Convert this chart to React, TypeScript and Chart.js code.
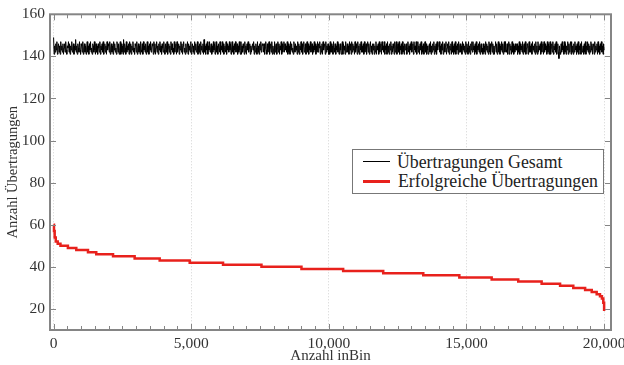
import React, { useEffect, useRef } from 'react';
import { Chart, registerables } from 'chart.js';

Chart.register(...registerables);

// ---- data ----
const xTicks = [0, 5000, 10000, 15000, 20000];
const yTicks = [20, 40, 60, 80, 100, 120, 140, 160];
const xMinorTicks = Array.from({ length: 41 }, (_, i) => i * 500);

// Erfolgreiche Übertragungen (sorted, stepwise)
const redX = [0, 15, 40, 80, 150, 250, 520, 825, 1250, 1550, 2160, 2945, 3855, 4945, 6156, 7552, 9005, 10520, 11975, 13430, 14740, 15915, 16880, 17730, 18400, 18880, 19310, 19550, 19730, 19850, 19920, 19970, 20000];
const redY = [60, 57, 54, 52, 51, 50, 49, 48, 47, 46, 45, 44, 43, 42, 41, 40, 39, 38, 37, 36, 35, 34, 33, 32, 31, 30, 29, 28, 27, 26, 25, 23, 19];

// Übertragungen Gesamt (noisy band around 144)
const totalY = [
  149,141,145,142,146,143,147,141,144,146,142,145,141,147,143,145,142,146,141,144,
  146,142,147,143,141,145,144,147,142,146,141,145,143,147,142,144,146,141,145,143,
  148,142,145,141,146,144,142,147,143,141,146,145,142,147,141,144,146,142,145,141,
  144,147,142,145,141,146,143,147,142,144,141,146,145,142,147,143,141,146,142,145,
  141,146,144,142,147,141,145,143,146,142,147,141,144,146,142,145,141,147,143,146,
  145,142,147,141,144,146,142,145,141,147,143,146,142,144,141,147,145,142,146,141,
  143,147,141,146,142,145,141,148,142,146,144,141,147,142,145,143,146,141,147,142,
  146,141,145,143,147,142,144,141,146,145,142,147,141,144,146,142,145,141,147,143,
  142,146,141,147,143,145,142,146,141,144,147,142,145,141,146,143,147,142,144,146,
  145,141,147,142,146,141,144,147,142,145,141,146,143,147,142,145,141,146,144,142,
  147,143,141,146,142,145,147,141,144,146,142,145,141,147,143,146,142,144,141,147,
  142,145,146,141,147,142,144,146,141,145,143,147,142,146,141,145,147,142,144,141,
  146,142,144,147,141,146,143,145,142,147,141,144,146,142,145,141,147,143,146,142,
  144,147,141,145,142,146,141,147,143,145,142,146,141,148,142,145,141,146,143,147,
  141,145,143,147,142,144,146,141,145,142,147,143,146,141,144,147,142,145,141,146,
  146,142,147,141,145,143,147,142,146,141,144,145,142,147,141,146,143,145,142,147,
  143,146,141,144,147,142,145,141,146,143,147,142,144,146,141,145,142,147,143,141,
  147,141,145,142,146,144,141,147,142,145,141,146,143,147,142,144,146,141,145,142,
  142,146,143,147,141,145,142,146,144,141,147,142,145,141,146,143,147,142,145,146,
  145,142,146,141,144,147,143,141,146,142,145,147,141,144,146,142,147,141,145,143,
  141,147,142,145,146,141,144,147,142,146,141,145,143,147,141,146,142,145,147,142,
  146,143,145,142,147,141,146,142,145,141,147,143,146,142,144,141,147,145,142,146,
  143,145,141,147,142,146,141,145,143,147,142,146,141,145,147,142,144,146,141,145,
  147,142,146,141,145,143,147,142,144,146,141,145,142,147,143,146,141,145,142,147,
  142,146,144,147,141,145,142,146,141,147,143,145,146,141,147,142,145,143,146,141,
  145,141,147,142,146,142,145,141,147,144,142,146,141,145,143,147,142,146,141,144,
  146,143,141,145,147,141,146,143,145,141,147,142,144,146,142,145,141,147,143,146,
  141,147,142,146,143,145,141,147,142,146,144,141,147,142,145,141,146,143,147,142,
  145,142,146,141,147,142,144,146,141,145,147,142,146,141,144,147,142,145,141,146,
  143,146,141,145,142,147,141,145,143,146,141,147,142,145,146,141,147,143,145,142,
  147,141,145,143,146,141,147,142,145,141,146,143,147,141,145,142,146,144,141,147,
  142,145,147,141,144,146,142,147,141,145,143,146,141,147,142,145,141,146,143,145,
  146,141,144,147,142,145,141,146,143,147,142,144,146,141,147,143,145,142,147,141,
  144,147,142,145,141,146,143,147,141,145,142,146,141,144,147,142,146,141,145,143,
  141,145,146,142,147,141,145,142,146,143,147,141,145,142,146,141,147,143,145,146,
  147,142,145,141,146,143,147,141,144,146,142,145,147,141,144,146,142,147,141,145,
  143,146,141,147,142,145,141,146,142,147,141,145,143,146,141,147,142,145,146,142,
  145,141,147,143,146,142,145,141,147,142,146,144,141,147,142,145,141,146,143,147,
  142,147,143,145,141,146,142,147,141,145,143,146,142,147,141,145,146,142,144,141,
  146,142,145,141,147,143,146,142,145,141,147,142,146,141,145,147,142,146,141,145,
  141,145,147,142,146,141,144,147,142,146,141,145,143,147,142,146,141,145,147,142,
  147,143,142,146,141,145,147,141,146,143,145,141,147,142,146,141,145,142,146,143,
  143,146,141,145,142,147,141,146,143,145,142,147,141,145,146,142,147,141,144,146,
  146,141,145,147,142,145,142,146,141,147,143,145,142,146,141,147,142,145,141,147,
  142,145,143,146,141,147,142,145,146,141,147,142,146,143,145,141,147,142,146,141,
  145,147,141,144,146,142,147,141,145,143,146,142,147,141,144,146,142,139,145,142,
  141,146,142,147,143,145,141,147,142,146,141,145,143,147,141,146,142,145,147,141,
  147,142,145,141,146,142,147,143,145,141,146,142,147,141,145,143,146,141,147,142,
  143,145,141,146,142,147,141,145,143,147,142,146,141,145,142,147,143,146,141,145,
  146,141,147,142,145,143,146,141,147,142,145,141,146,143,147,142,145,141,146,143
];
const totalX = totalY.map((_, i) => (i * 20000) / (totalY.length - 1));

const SERIF = "'Liberation Serif', 'Times New Roman', serif";
const FRAME = '#858585';

const frameTicks = {
  id: 'frameTicks',
  afterDatasetsDraw(chart: any) {
    const { ctx, chartArea: a, scales } = chart;
    const xs = scales.x;
    const ys = scales.y;
    ctx.save();
    ctx.strokeStyle = FRAME;
    ctx.lineWidth = 1;
    ctx.beginPath();
    xMinorTicks.forEach((v) => {
      const px = Math.round(xs.getPixelForValue(v)) + 0.5;
      const len = xTicks.includes(v) ? 6 : 4;
      ctx.moveTo(px, a.bottom);
      ctx.lineTo(px, a.bottom - len);
      ctx.moveTo(px, a.top);
      ctx.lineTo(px, a.top + len);
    });
    yTicks.forEach((v) => {
      const py = Math.round(ys.getPixelForValue(v)) + 0.5;
      ctx.moveTo(a.left, py);
      ctx.lineTo(a.left + 6, py);
      ctx.moveTo(a.right, py);
      ctx.lineTo(a.right - 6, py);
    });
    ctx.stroke();
    ctx.lineWidth = 2;
    ctx.strokeRect(a.left, a.top, a.right - a.left, a.bottom - a.top);
    ctx.restore();
  },
};

export default function App() {
  const ref = useRef<HTMLCanvasElement | null>(null);

  useEffect(() => {
    if (!ref.current) return;
    const chart = new Chart(ref.current, {
      type: 'line',
      data: {
        datasets: [
          {
            label: 'Übertragungen Gesamt',
            data: totalX.map((x, i) => ({ x, y: totalY[i] })),
            borderColor: '#000000',
            borderWidth: 1,
            pointRadius: 0,
            tension: 0,
          },
          {
            label: 'Erfolgreiche Übertragungen',
            data: redX.map((x, i) => ({ x, y: redY[i] })),
            borderColor: '#e8211c',
            borderWidth: 2.5,
            pointRadius: 0,
            stepped: true,
          },
        ],
      },
      options: {
        animation: false,
        responsive: false,
        maintainAspectRatio: false,
        devicePixelRatio: 1,
        layout: { padding: { left: 0, right: 39, top: 13, bottom: 0 } },
        plugins: { legend: { display: false }, tooltip: { enabled: false } },
        scales: {
          x: {
            type: 'linear',
            min: -130,
            max: 20250,
            afterBuildTicks: (s: any) => {
              s.ticks = xTicks.map((v) => ({ value: v }));
            },
            afterFit: (s: any) => {
              s.height = 35;
            },
            ticks: {
              callback: (v: any) => Number(v).toLocaleString('en-US'),
              font: { family: SERIF, size: 15.5 },
              color: '#333333',
              padding: 5,
              maxRotation: 0,
              autoSkip: false,
            },
            grid: { drawTicks: false, color: '#d2d2d2', lineWidth: 1 },
            border: { display: false, dash: [1, 2] },
            title: {
              display: true,
              text: 'Anzahl inBin',
              font: { family: SERIF, size: 15 },
              color: '#333333',
              padding: { top: 0, bottom: 0 },
            },
          },
          y: {
            type: 'linear',
            min: 10,
            max: 160,
            afterBuildTicks: (s: any) => {
              s.ticks = yTicks.map((v) => ({ value: v }));
            },
            afterFit: (s: any) => {
              s.width = 50;
            },
            ticks: {
              font: { family: SERIF, size: 15.5 },
              color: '#333333',
              padding: 5,
            },
            grid: { display: false, drawTicks: false },
            border: { display: false },
            title: {
              display: true,
              text: 'Anzahl Übertragungen',
              font: { family: SERIF, size: 14.5 },
              color: '#333333',
              padding: { top: 4, bottom: 0 },
            },
          },
        },
      },
      plugins: [frameTicks],
    } as any);
    return () => chart.destroy();
  }, []);

  const textStyle: React.CSSProperties = {
    position: 'absolute',
    fontFamily: SERIF,
    fontSize: '17.8px',
    lineHeight: '20px',
    color: '#222222',
    whiteSpace: 'nowrap',
  };

  return (
    <div
      style={{
        position: 'fixed',
        left: 0,
        top: 0,
        width: 624,
        height: 365,
        overflow: 'hidden',
        background: '#ffffff',
      }}
    >
      <canvas ref={ref} width={650} height={365} style={{ display: 'block', width: 650, height: 365 }} />
      <div
        style={{
          position: 'absolute',
          left: 352,
          top: 149,
          width: 252,
          height: 45,
          boxSizing: 'border-box',
          border: '1px solid #777777',
          background: '#ffffff',
        }}
      >
        <div style={{ position: 'absolute', left: 10, top: 11, width: 27, height: 1, background: '#000000' }} />
        <div style={{ position: 'absolute', left: 10, top: 30, width: 27, height: 3, background: '#e8211c' }} />
        <span style={{ ...textStyle, left: 44, top: 2 }}>Übertragungen Gesamt</span>
        <span style={{ ...textStyle, left: 45, top: 21 }}>Erfolgreiche Übertragungen</span>
      </div>
    </div>
  );
}
